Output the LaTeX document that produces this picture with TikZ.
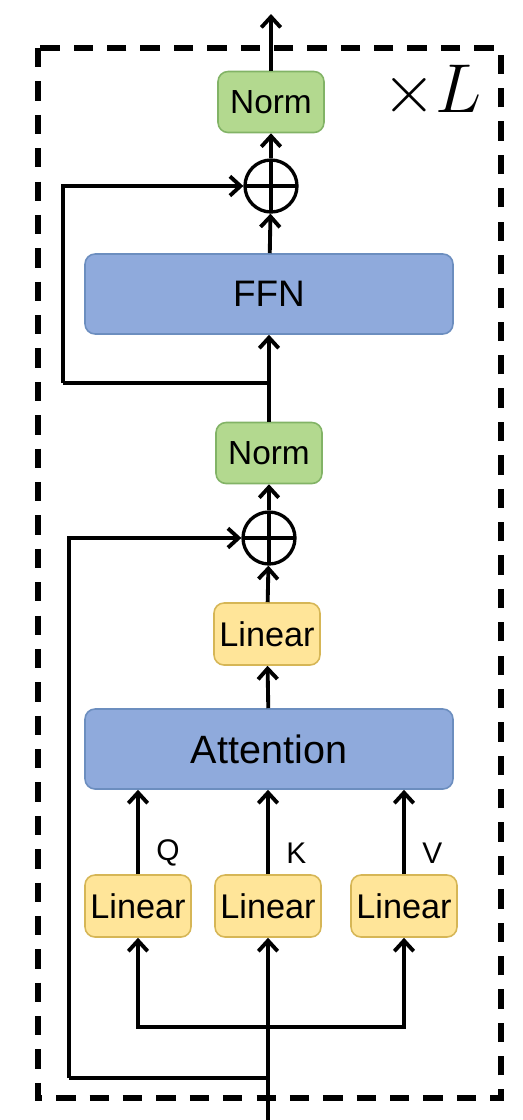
\documentclass[tikz,border=0pt]{standalone}
\usepackage{fontspec}
\setmainfont{Liberation Sans}
\usepackage{amsmath}
\usepackage{tikz}
\usetikzlibrary{calc,positioning,arrows.meta}

\definecolor{normfill}{RGB}{179,217,143}
\definecolor{normdraw}{RGB}{130,179,102}
\definecolor{linfill}{RGB}{255,229,153}
\definecolor{lindraw}{RGB}{214,182,86}
\definecolor{blkfill}{RGB}{143,170,220}
\definecolor{blkdraw}{RGB}{108,142,191}

\begin{document}
\begin{tikzpicture}[x=0.02cm, y=-0.02cm, >={Straight Barb[length=6pt,width=11pt]},
  wire/.style={line width=2.2pt},
  blk/.style={rounded corners=0.2cm, line width=0.9pt, inner sep=0pt},
  norm/.style={blk, fill=normfill, draw=normdraw, minimum width=2.12cm, minimum height=1.22cm, font=\fontsize{19}{22}\selectfont},
  lin/.style={blk, fill=linfill, draw=lindraw, minimum width=2.12cm, minimum height=1.24cm, font=\fontsize{19.5}{22}\selectfont},
  wide/.style={blk, fill=blkfill, draw=blkdraw, minimum width=7.36cm, minimum height=1.6cm},
  add/.style={circle, draw, line width=1.9pt, minimum size=1.04cm, inner sep=0pt,
    path picture={\draw[line width=1.9pt] (path picture bounding box.north) -- (path picture bounding box.south)
      (path picture bounding box.west) -- (path picture bounding box.east);}}]
  \useasboundingbox (0,0) rectangle (522,1120);

  % repeated block
  \draw[line width=3pt, dash pattern=on 11pt off 8pt] (38,48) rectangle (501,1098);
  \node[font=\huge, scale=1.9] (rep) at (432,92) {$\times L$};

  \node[norm] (norm2) at (271,102) {Norm};
  \node[add] (add2) at (271,186) {};
  \node[wide, font=\fontsize{21}{24}\selectfont] (ffn) at (269,294) {FFN};
  \node[norm] (norm1) at (269,453) {Norm};
  \node[add] (add1) at (269,538) {};
  \node[lin] (lino) at (267,634) {Linear};
  \node[wide, font=\fontsize{22.5}{26}\selectfont] (attn) at (269,749) {Attention};

  \node[lin] (linq) at (138,906) {Linear};
  \node[lin] (link) at (268,906) {Linear};
  \node[lin] (linv) at (404,906) {Linear};

  \coordinate (out) at (271,14);
  \coordinate (in) at (268,1120);
  \coordinate (split) at (268,1027);
  \coordinate (res1) at (268,1078);
  \coordinate (c1) at (69,1078);
  \coordinate (res2) at (269,383);
  \coordinate (c2) at (63,383);

  % input and q k v
  \draw[wire,->] (in) -- (link);
  \draw[wire,->] (split) -| (linq);
  \draw[wire,->] (split) -| (linv);
  \draw[wire,->] (linq) -- (linq |- attn.south) node[pos=0.25, right=6pt, font=\fontsize{17}{19}\selectfont] {Q};
  \draw[wire,->] (link) -- (link |- attn.south) node[pos=0.25, right=6pt, font=\fontsize{17}{19}\selectfont] {K};
  \draw[wire,->] (linv) -- (linv |- attn.south) node[pos=0.25, right=6pt, font=\fontsize{17}{19}\selectfont] {V};

  % attention part
  \draw[wire,->] (attn) -- (lino);
  \draw[wire,->] (lino) -- (add1);
  \draw[wire] (res1) -- (c1);
  \draw[wire,->] (c1) |- (add1);
  \draw[wire,->] (add1) -- (norm1);

  % ffn part
  \draw[wire,->] (norm1) -- (ffn);
  \draw[wire] (res2) -- (c2);
  \draw[wire,->] (c2) |- (add2);
  \draw[wire,->] (ffn) -- (add2);
  \draw[wire,->] (add2) -- (norm2);
  \draw[wire,->] (norm2) -- (out);
\end{tikzpicture}
\end{document}
